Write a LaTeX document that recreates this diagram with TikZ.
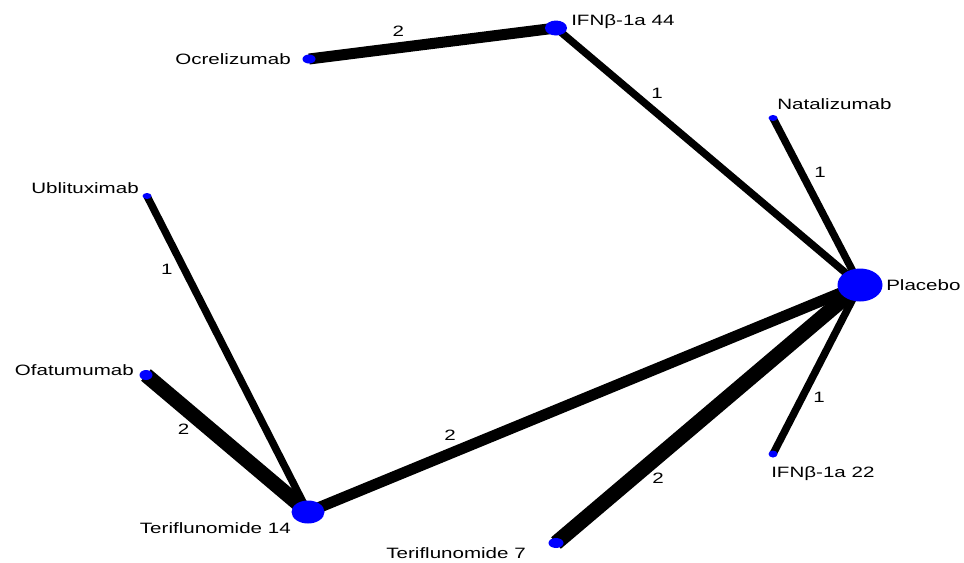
\documentclass[tikz,border=0pt]{standalone}
\usepackage{fontspec}
\setmainfont[FakeStretch=1.37]{Liberation Sans}
\usetikzlibrary{shapes.geometric,backgrounds}

\tikzset{
  trt/.style 2 args={ellipse, fill=blue, draw=none, inner sep=0pt,
    minimum width=#1, minimum height=#2},
  txt/.style={inner sep=0pt, text height=8pt, text depth=0pt,
    font=\fontsize{11.25}{13}\selectfont},
  num/.style={txt},
  one/.style={line width=5.6pt},
  two/.style={line width=8.25pt},
  twobig/.style={line width=11.25pt},
}

\begin{document}
\begin{tikzpicture}[x=0.75pt,y=-0.75pt]
\useasboundingbox (0,0) rectangle (964,562);

  %% treatments
  \node[trt={33.75pt}{24.75pt}] (plac) at (860,285) {};
  \node[trt={24.75pt}{17.25pt}] (teri14) at (308,512) {};
  \node[trt={16.5pt}{11.25pt}] (ifn44) at (556,28) {};
  \node[trt={11.25pt}{7.5pt}] (teri7) at (556,543) {};
  \node[trt={9.75pt}{6.75pt}] (ocre) at (309,59) {};
  \node[trt={9.75pt}{7.5pt}] (ofat) at (146,375) {};
  \node[trt={6.75pt}{4.5pt}] (nata) at (773,118) {};
  \node[trt={6.75pt}{4.5pt}] (ublit) at (147,196) {};
  \node[trt={6.75pt}{5.25pt}] (ifn22) at (773,454) {};

  %% names
  \node[txt,anchor=west] (lplac) at (886,285) {Placebo};
  \node[txt,anchor=east] (lteri14) at (291,528) {Teriflunomide 14};
  \node[txt,anchor=west] (lifn44) at (571,20) {IFNβ-1a 44};
  \node[txt,anchor=east] (lteri7) at (526,553) {Teriflunomide 7};
  \node[txt,anchor=east] (locre) at (291,59) {Ocrelizumab};
  \node[txt,anchor=east] (lofat) at (134,370) {Ofatumumab};
  \node[txt,anchor=west] (lnata) at (777,104) {Natalizumab};
  \node[txt,anchor=east] (lublit) at (139,188) {Ublituximab};
  \node[txt,anchor=west] (lifn22) at (771,472) {IFNβ-1a 22};

  %% comparisons
  \begin{scope}[on background layer]
  \draw[two] (ocre.center) -- node[num,pos=.37,shift={(-2,-16)}] (n1) {2} (ifn44.center);
  \draw[one] (ifn44.center) -- node[num,pos=.30,shift={(10,-12)}] (n2) {1} (plac.center);
  \draw[one] (nata.center) -- node[num,pos=.37,shift={(15,-8)}] (n3) {1} (plac.center);
  \draw[one] (ublit.center) -- node[num,pos=.21,shift={(-14,7)}] (n4) {1} (teri14.center);
  \draw[twobig] (ofat.center) -- node[num,pos=.30,shift={(-11,13)}] (n5) {2} (teri14.center);
  \draw[two] (teri14.center) -- node[num,pos=.27,shift={(-7,-16)}] (n6) {2} (plac.center);
  \draw[one] (plac.center) -- node[num,pos=.62,shift={(13,7)}] (n7) {1} (ifn22.center);
  \draw[twobig] (plac.center) -- node[num,pos=.70,shift={(11,13)}] (n8) {2} (teri7.center);
  \end{scope}

\end{tikzpicture}
\end{document}
